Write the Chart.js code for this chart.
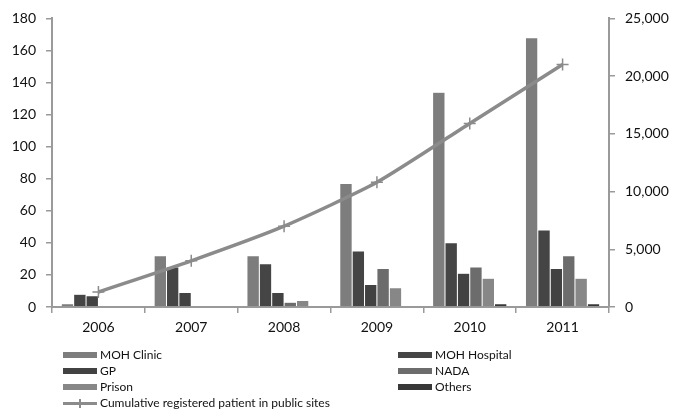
<!DOCTYPE html>
<html>
<head>
<meta charset="utf-8">
<script src="https://cdn.jsdelivr.net/npm/chart.js@4"></script>
<style>
  html, body { margin: 0; padding: 0; background: #fff; }
  #wrap { position: relative; width: 676px; height: 412px; }
  #legend { position: absolute; left: 0; top: 0; width: 676px; height: 412px; pointer-events: none;
            font-family: Lato, "Open Sans", sans-serif; font-size: 12px; color: #111; }
  .item { position: absolute; height: 16px; line-height: 16px; white-space: nowrap; }
  .sw { position: absolute; left: 0; top: 5px; width: 34px; height: 6px; }
  .lbl { position: absolute; left: 37px; top: 0; }
  .ln { position: absolute; left: 0; top: 7px; width: 34px; height: 3px; }
  .lnx { position: absolute; left: 16px; top: 4px; width: 1.5px; height: 9px; }
</style>
</head>
<body>
<div id="wrap">
  <canvas id="c" width="676" height="412"></canvas>
  <div id="legend"></div>
</div>
<script>
const years = ['2006', '2007', '2008', '2009', '2010', '2011'];

const mohClinic   = [2, 32, 32, 77, 134, 168];
const mohHospital = [8, 25, 27, 35, 40, 48];
const gp          = [7, 9, 9, 14, 21, 24];
const nada        = [0, 0, 3, 24, 25, 32];
const prison      = [0, 0, 4, 12, 18, 18];
const others      = [0, 0, 0, 0, 2, 2];
const cumulative  = [1300, 4000, 7000, 10800, 15900, 21000];

const leftTicks  = [0, 20, 40, 60, 80, 100, 120, 140, 160, 180];
const rightTicks = [0, 5000, 10000, 15000, 20000, 25000];

const barSeries = [
  { label: 'MOH Clinic',   data: mohClinic,   color: '#7d7d7d' },
  { label: 'MOH Hospital', data: mohHospital, color: '#454545' },
  { label: 'GP',           data: gp,          color: '#424242' },
  { label: 'NADA',         data: nada,        color: '#6c6c6c' },
  { label: 'Prison',       data: prison,      color: '#878787' },
  { label: 'Others',       data: others,      color: '#383838' }
];
const lineLabel = 'Cumulative registered patient in public sites';
const lineColor = '#8b8b8b';

const FONT = { family: 'Lato, "Open Sans", sans-serif', size: 14 };
const TEXT = '#111';
const AXIS = '#9a9a9a';

const datasets = barSeries.map(s => ({
  type: 'bar',
  label: s.label,
  data: s.data,
  backgroundColor: s.color,
  borderColor: 'rgba(255,255,255,0.25)',
  borderWidth: 0.5,
  yAxisID: 'y',
  order: 1,
  categoryPercentage: 0.8,
  barPercentage: 1.0
}));
datasets.push({
  type: 'line',
  label: lineLabel,
  data: cumulative,
  yAxisID: 'y1',
  borderColor: lineColor,
  borderWidth: 3.5,
  tension: 0.2,
  pointStyle: 'cross',
  pointRadius: 6,
  pointBorderWidth: 1.5,
  pointBorderColor: lineColor,
  pointBackgroundColor: lineColor,
  order: 0
});

new Chart(document.getElementById('c'), {
  type: 'bar',
  data: { labels: years, datasets },
  options: {
    responsive: false,
    animation: false,
    events: [],
    layout: { padding: { top: 15, bottom: 72, left: 0, right: 0 } },
    plugins: { legend: { display: false }, tooltip: { enabled: false } },
    scales: {
      x: {
        grid: { display: true, drawOnChartArea: false, offset: true, color: AXIS, tickLength: 6, lineWidth: 1.5 },
        border: { color: AXIS, width: 2 },
        ticks: { font: FONT, color: TEXT, padding: 6 },
        afterFit: s => { s.height = 33; }
      },
      y: {
        position: 'left',
        min: 0, max: 180,
        afterBuildTicks: s => { s.ticks = leftTicks.map(v => ({ value: v })); },
        grid: { display: true, drawOnChartArea: false, color: AXIS, tickLength: 6, lineWidth: 1.5 },
        border: { color: AXIS, width: 2 },
        ticks: { font: FONT, color: TEXT, padding: 10 },
        afterFit: s => { s.width = 52; }
      },
      y1: {
        position: 'right',
        min: 0, max: 25000,
        afterBuildTicks: s => { s.ticks = rightTicks.map(v => ({ value: v })); },
        grid: { display: true, drawOnChartArea: false, color: AXIS, tickLength: 6, lineWidth: 1.5 },
        border: { color: AXIS, width: 2 },
        ticks: { font: FONT, color: TEXT, padding: 10,
                 callback: v => v.toLocaleString('en-US') },
        afterFit: s => { s.width = 67; }
      }
    }
  }
});

// Two-column legend under the plot
const legend = document.getElementById('legend');
const colX = [63, 398];
const rowY = [347, 363, 379, 395];
barSeries.forEach((s, i) => {
  const el = document.createElement('div');
  el.className = 'item';
  el.style.left = colX[i % 2] + 'px';
  el.style.top = rowY[Math.floor(i / 2)] + 'px';
  el.innerHTML = '<div class="sw" style="background:' + s.color + '"></div><span class="lbl"></span>';
  el.querySelector('.lbl').textContent = s.label;
  legend.appendChild(el);
});
const li = document.createElement('div');
li.className = 'item';
li.style.left = colX[0] + 'px';
li.style.top = rowY[3] + 'px';
li.innerHTML = '<div class="ln" style="background:' + lineColor + '"></div><div class="lnx" style="background:' + lineColor + '"></div><span class="lbl"></span>';
li.querySelector('.lbl').textContent = lineLabel;
legend.appendChild(li);
</script>
</body>
</html>
